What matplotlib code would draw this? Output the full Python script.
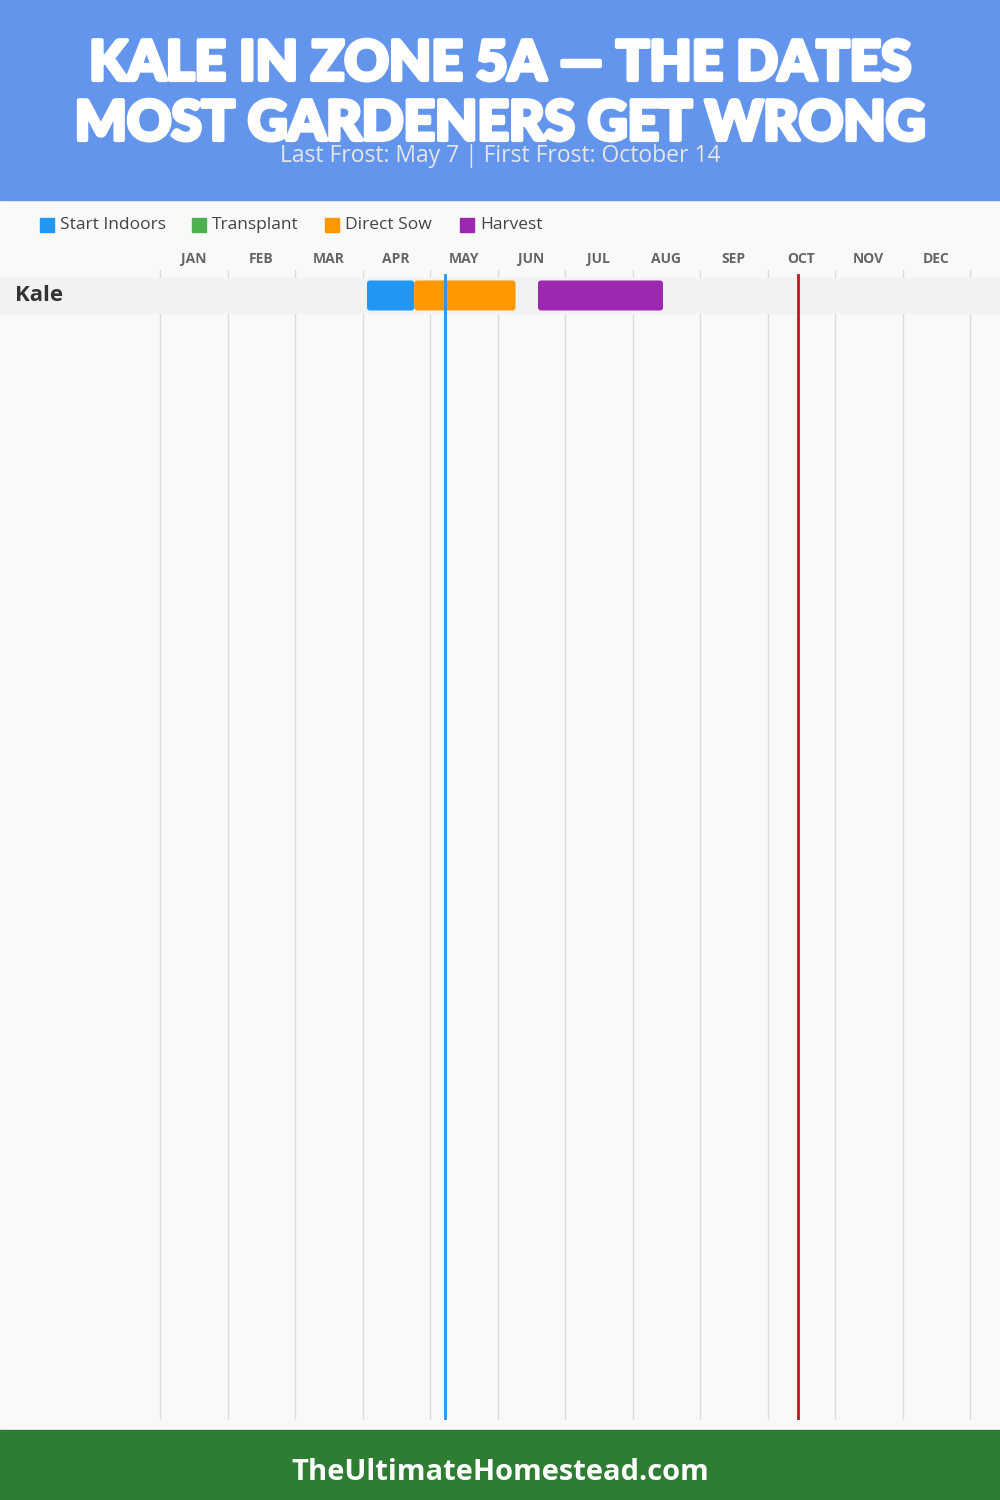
import matplotlib.pyplot as plt
from matplotlib.patches import FancyBboxPatch, Rectangle
from matplotlib import font_manager
import matplotlib.patheffects as pe

# ---- data ----
months = ['JAN', 'FEB', 'MAR', 'APR', 'MAY', 'JUN', 'JUL', 'AUG', 'SEP', 'OCT', 'NOV', 'DEC']
days_in_month = [31, 28, 31, 30, 31, 30, 31, 31, 30, 31, 30, 31]
crops = ['Kale']
stages = ['Start Indoors', 'Transplant', 'Direct Sow', 'Harvest']
stage_colors = ['#2196F3', '#4CAF50', '#FF9800', '#9C27B0']
# (stage, start month, start day, end month, end day)
kale_periods = [
    ('Start Indoors', 4, 2, 4, 23),
    ('Direct Sow', 4, 23, 6, 8),
    ('Harvest', 6, 18, 8, 14),
]
last_frost = (5, 7)
first_frost = (10, 14)
title_lines = ['KALE IN ZONE 5A — THE DATES', 'MOST GARDENERS GET WRONG']
subtitle = 'Last Frost: May 7 | First Frost: October 14'
footer = 'TheUltimateHomestead.com'


def month_pos(m, d):
    return (m - 1) + d / days_in_month[m - 1]


names = {f.name for f in font_manager.fontManager.ttflist}
head_font = 'Lato' if 'Lato' in names else 'DejaVu Sans'
body_font = 'Open Sans' if 'Open Sans' in names else 'DejaVu Sans'
plt.rcParams['font.family'] = [body_font, 'DejaVu Sans']

W, H = 1000, 1500
fig = plt.figure(figsize=(10, 15), dpi=100)
fig.patch.set_facecolor('#F9F9F7')

# header / footer bands
fig.patches.append(Rectangle((0, 1 - 200 / H), 1, 200 / H, transform=fig.transFigure,
                             color='#6495ED', zorder=0))
fig.patches.append(Rectangle((0, 0), 1, 70 / H, transform=fig.transFigure,
                             color='#2E7D32', zorder=0))

for yy, line in zip([64, 124], title_lines):
    fig.text(0.5, 1 - yy / H, line, ha='center', va='center', color='white',
             fontsize=39.5, fontweight='black', family=[head_font, 'DejaVu Sans'],
             path_effects=[pe.withStroke(linewidth=3, foreground='white')])
fig.text(0.5, 1 - 156 / H, subtitle, ha='center', va='center', color='#E6E6E6',
         fontsize=16.5)
fig.text(0.5, 1 - 1472 / H, footer, ha='center', va='center', color='white',
         fontsize=21, fontweight='bold')

# legend
leg_x = [40, 192, 325, 460]
for x, lab, col in zip(leg_x, stages, stage_colors):
    fig.patches.append(Rectangle((x / W, 1 - 232 / H), 14 / W, 14 / H,
                                 transform=fig.transFigure, color=col))
    fig.text((x + 20) / W, 1 - 225 / H, lab, ha='left', va='center',
             color='#444444', fontsize=12.5)

# chart axes: full width, x in months
x0_px, mw = 160, 67.5
ax = fig.add_axes([0, 80 / H, 1, (1420 - 270) / H])
ax.set_xlim(-x0_px / mw, (W - x0_px) / mw)
ax.set_ylim(1420, 270)
ax.axis('off')

for i in range(13):
    ax.axvline(i, color='#DDDDDD', lw=1, zorder=1)
for i, m in enumerate(months):
    fig.text((x0_px + (i + 0.5) * mw) / W, 1 - 259 / H, m, ha='center', va='center',
             color='#666666', fontsize=10, fontweight='bold')

row_h = 35
for r, crop in enumerate(crops):
    yc = 295.5 + r * row_h
    ax.axhspan(yc - 17.5, yc + 17.5, color='#F2F2F2', zorder=2)
    fig.text(15 / W, 1 - yc / H, crop, ha='left', va='center', color='#333333',
             fontsize=16, fontweight='bold')
    for stage, m1, d1, m2, d2 in kale_periods:
        s, e = month_pos(m1, d1), month_pos(m2, d2)
        col = stage_colors[stages.index(stage)]
        r_x = 3 / mw
        ax.add_patch(FancyBboxPatch((s, yc - 15), e - s, 30,
                                    boxstyle='round,pad=0,rounding_size=%f' % r_x,
                                    mutation_aspect=3 / r_x, color=col, lw=0, zorder=3))

ax.plot([month_pos(*last_frost)] * 2, [275, 1420], color='#2196F3', lw=2, zorder=4)
ax.plot([month_pos(*first_frost)] * 2, [275, 1420], color='#B71C1C', lw=2, zorder=4)

fig.savefig('out.png', dpi=100, facecolor=fig.get_facecolor())
